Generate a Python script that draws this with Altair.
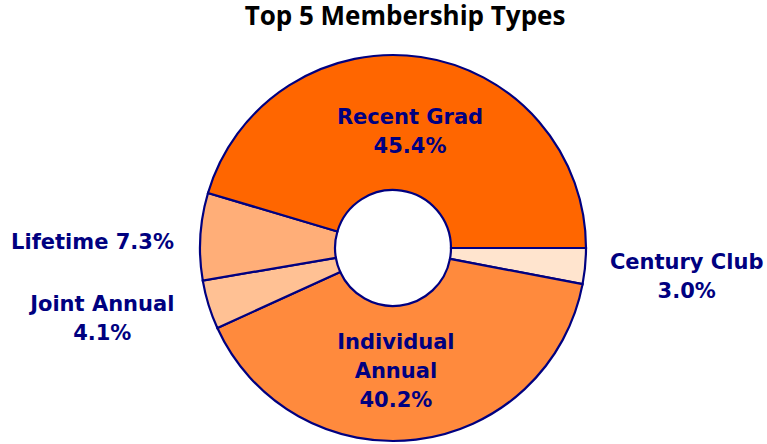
import math
import altair as alt
import pandas as pd

# ---- data (clockwise from 3 o'clock) ----
types = ["Century Club", "Individual Annual", "Joint Annual", "Lifetime", "Recent Grad"]
shares = [3.0, 40.2, 4.1, 7.3, 45.4]
labels = ["Century Club\n3.0%", "Individual\nAnnual\n40.2%", "Joint Annual\n4.1%",
          "Lifetime 7.3%", "Recent Grad\n45.4%"]
fills = ["#FFE4CE", "#FF8A3D", "#FFC194", "#FFAE78", "#FF6600"]
title_text = ["Top 5 Membership Types"]

df = pd.DataFrame({"type": types, "share": shares, "label": labels,
                   "order": list(range(len(types)))})

CX, CY = 393, 248
NAVY = "#000080"

theta_scale = alt.Scale(range=[math.pi / 2, math.pi / 2 + 2 * math.pi])
theta = alt.Theta("share:Q", stack=True, scale=theta_scale)
order = alt.Order("order:Q")

arcs = alt.Chart(df).mark_arc(
    innerRadius=58, outerRadius=193, stroke=NAVY, strokeWidth=2.2
).encode(
    theta=theta,
    order=order,
    color=alt.Color("type:N", scale=alt.Scale(domain=types, range=fills), legend=None),
    x=alt.value(CX),
    y=alt.value(CY),
)


def label_layer(name, radius, dx=0, dy=0):
    return alt.Chart(df).transform_calculate(
        t=f"datum.type == '{name}' ? datum.label : ''"
    ).mark_text(
        radius=radius, dx=dx, dy=dy, align="center", baseline="middle",
        lineBreak="\n", lineHeight=29, font="DejaVu Sans", fontWeight="bold",
        fontSize=21, color=NAVY,
    ).encode(
        theta=theta, order=order, text="t:N",
        x=alt.value(CX), y=alt.value(CY),
    )


title = alt.Chart(pd.DataFrame({"t": title_text})).mark_text(
    font="Open Sans", fontSize=26, fontWeight="bold", color="black",
    align="center", baseline="alphabetic"
).encode(text="t:N", x=alt.value(405), y=alt.value(25))

layers = [
    arcs,
    label_layer("Recent Grad", 118, dy=-13),
    label_layer("Individual Annual", 125, dx=-12, dy=-29),
    label_layer("Century Club", 295, dy=-13),
    label_layer("Joint Annual", 300, dx=-4, dy=-31),
    label_layer("Lifetime", 301, dy=13),
    title,
]

chart = alt.layer(*layers).properties(
    width=767, height=444,
    autosize=alt.AutoSizeParams(type="none"),
    padding=0,
).configure_view(stroke=None)

chart.save("out.html", embed_options={"renderer": "svg", "actions": False})
